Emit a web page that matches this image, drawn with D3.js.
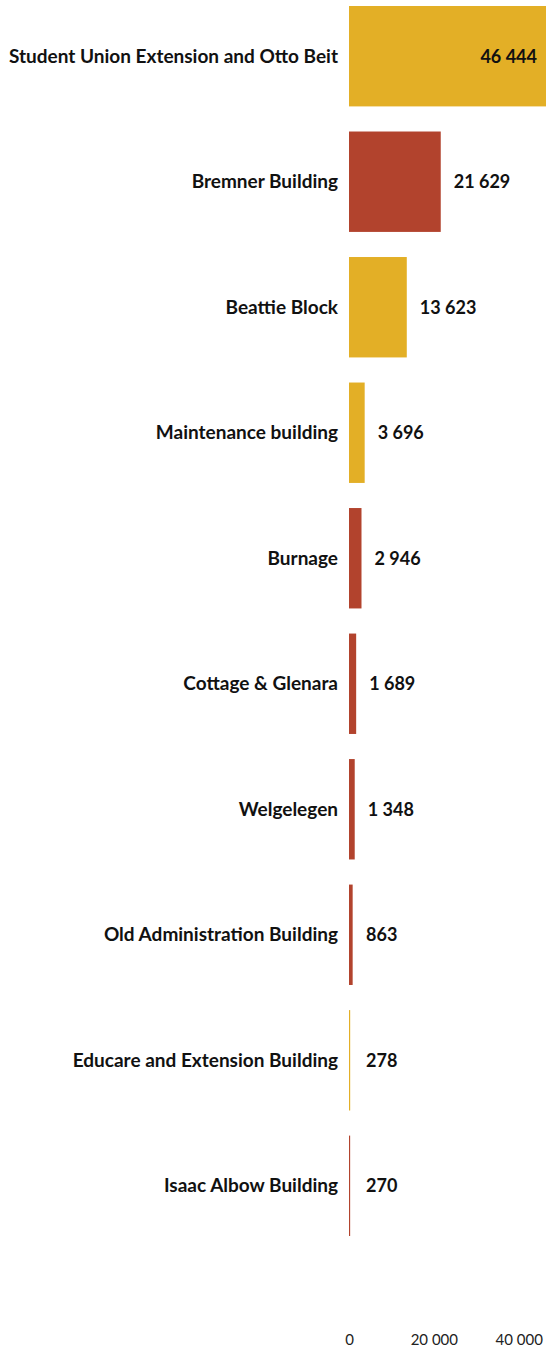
<!DOCTYPE html>
<html>
<head>
<meta charset="utf-8">
<script src="https://cdn.jsdelivr.net/npm/d3@7"></script>
<style>
html,body{margin:0;padding:0;background:#fff;}
svg{display:block;}
</style>
</head>
<body>
<svg id="chart" width="546" height="1348"></svg>
<script>
const categories = ["Student Union Extension and Otto Beit","Bremner Building","Beattie Block","Maintenance building","Burnage","Cottage & Glenara","Welgelegen","Old Administration Building","Educare and Extension Building","Isaac Albow Building"];
const values = [46444,21629,13623,3696,2946,1689,1348,863,278,270];
const groups = ["gold","red","gold","gold","red","red","red","red","gold","red"];
const tickValues = [0,20000,40000];

const colors = {gold:"#E3AF26", red:"#B2432D"};
const svg = d3.select("#chart");
const x = d3.scaleLinear().domain([0, d3.max(values)]).range([349, 546]);
const y = d3.scaleBand().domain(categories).range([6, 1236]).paddingInner(0.2).paddingOuter(0);
const fmtSp = v => d3.format(",")(v).replace(/,/g, " ");

const data = categories.map((c,i)=>({c, v:values[i], g:groups[i]}));

svg.selectAll("rect.bar").data(data).join("rect")
  .attr("class","bar")
  .attr("x", x(0))
  .attr("y", d=>y(d.c))
  .attr("width", d=>x(d.v)-x(0))
  .attr("height", y.bandwidth())
  .attr("fill", d=>colors[d.g]);

svg.selectAll("text.cat").data(data).join("text")
  .attr("class","cat")
  .attr("x", x(0)-11)
  .attr("y", d=>y(d.c)+y.bandwidth()/2)
  .attr("dy","0.35em")
  .attr("text-anchor","end")
  .style("font-family","Lato, sans-serif")
  .style("font-weight","bold")
  .style("font-size","19px")
  .style("fill","#111")
  .text(d=>d.c);

const maxV = d3.max(values);
svg.selectAll("text.val").data(data).join("text")
  .attr("class","val")
  .attr("x", d=> d.v===maxV ? x(d.v)-9 : Math.max(x(d.v)+13, 366))
  .attr("y", d=>y(d.c)+y.bandwidth()/2)
  .attr("dy","0.35em")
  .attr("text-anchor", d=> d.v===maxV ? "end" : "start")
  .style("font-family","Lato, sans-serif")
  .style("font-weight","bold")
  .style("font-size","18px")
  .style("fill","#111")
  .text(d=>fmtSp(d.v));

const axis = d3.axisBottom(x).tickValues(tickValues).tickSize(0).tickPadding(0).tickFormat(fmtSp);
const g = svg.append("g").attr("transform","translate(0,1334)").call(axis);
g.select(".domain").remove();
g.selectAll("text")
  .style("font-family","Lato, sans-serif")
  .style("font-size","15px")
  .style("fill","#222");
</script>
</body>
</html>
